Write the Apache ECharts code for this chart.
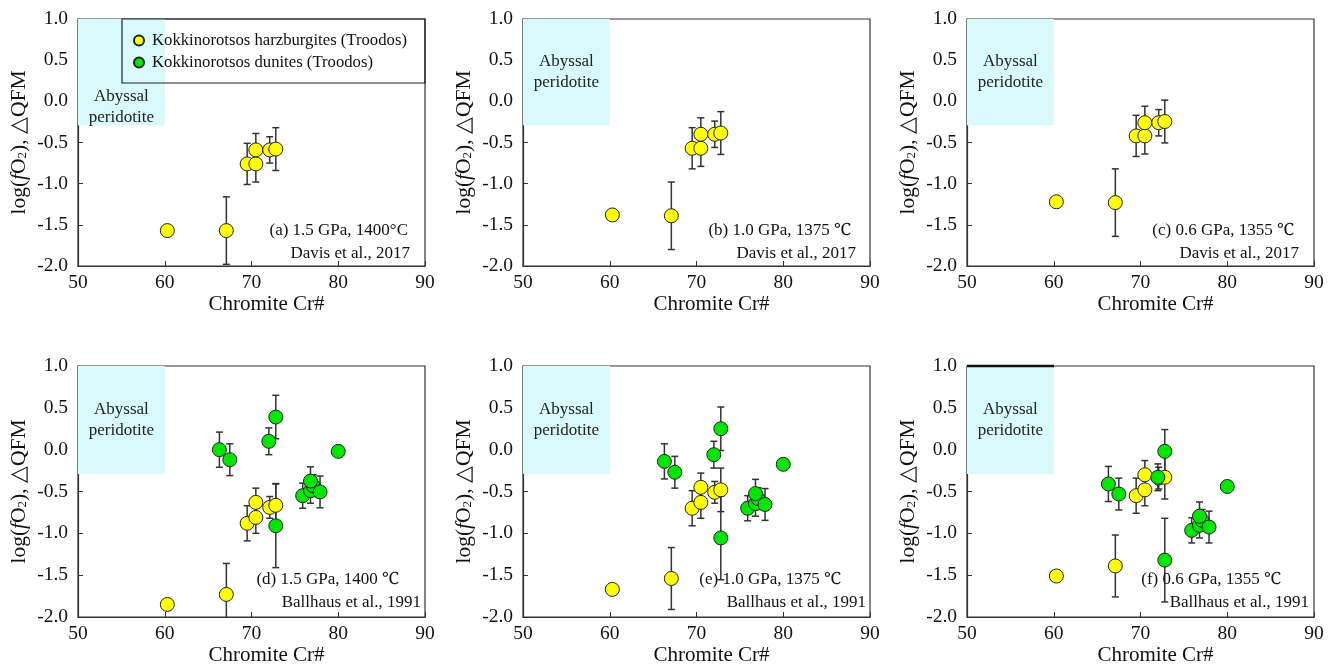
<!DOCTYPE html>
<html>
<head>
<meta charset="utf-8">
<script src="https://cdn.jsdelivr.net/npm/echarts@6/dist/echarts.min.js"></script>
<style>
html,body{margin:0;padding:0;background:#fff;}
#chart{width:1336px;height:667px;}
</style>
</head>
<body>
<div id="chart"></div>
<script>
// ---------------- DATA ----------------
const xTickValues = [50, 60, 70, 80, 90];
const yTickValues = [-2.0, -1.5, -1.0, -0.5, 0.0, 0.5, 1.0];

const harzName = 'Kokkinorotsos harzburgites (Troodos)';
const duniteName = 'Kokkinorotsos dunites (Troodos)';

// Chromite Cr# of harzburgites
const harzCr = [60.3, 67.1, 69.5, 70.5, 70.5, 72.1, 72.8];
// log(fO2) ΔQFM per panel
const harzA = [-1.57, -1.57, -0.76, -0.76, -0.59, -0.59, -0.58];
const harzB = [-1.38, -1.39, -0.57, -0.57, -0.40, -0.40, -0.385];
const harzC = [-1.22, -1.23, -0.42, -0.42, -0.26, -0.26, -0.245];
const harzD = [-1.85, -1.73, -0.88, -0.81, -0.63, -0.69, -0.665];
const harzE = [-1.67, -1.54, -0.70, -0.63, -0.45, -0.51, -0.48];
const harzF = [-1.51, -1.39, -0.55, -0.48, -0.30, -0.34, -0.33];
const harzErrDavis = [0, 0.41, 0.25, 0.22, 0.20, 0.16, 0.26];
const harzErrBallhaus = [0, 0.37, 0.21, 0.19, 0.17, 0.13, 0.26];

// Chromite Cr# of dunites
const duniteCr = [66.3, 67.5, 72.0, 72.8, 72.8, 75.9, 76.8, 77.1, 76.8, 77.9, 80.0];
const duniteD = [0.00, -0.12, 0.10, 0.39, -0.91, -0.55, -0.49, -0.43, -0.375, -0.505, -0.02];
const duniteE = [-0.14, -0.27, -0.06, 0.25, -1.055, -0.70, -0.645, -0.585, -0.525, -0.655, -0.175];
const duniteF = [-0.41, -0.53, -0.33, -0.02, -1.32, -0.965, -0.905, -0.845, -0.795, -0.925, -0.44];
const duniteErr = [0.21, 0.19, 0.16, 0.26, 0.50, 0.15, 0.15, 0.13, 0.17, 0.19, 0];

// Abyssal peridotite field
const abyssalX = [50, 60];
const abyssalY = [-0.29, 1.0];
const abyssalLabel = 'Abyssal\nperidotite';

const panelTitles = ['(a) 1.5 GPa, 1400°C', '(b) 1.0 GPa, 1375 ℃', '(c) 0.6 GPa, 1355 ℃',
                     '(d) 1.5 GPa, 1400 ℃', '(e) 1.0 GPa, 1375 ℃', '(f) 0.6 GPa, 1355 ℃'];
const panelRefs = ['Davis et al., 2017', 'Davis et al., 2017', 'Davis et al., 2017',
                   'Ballhaus et al., 1991', 'Ballhaus et al., 1991', 'Ballhaus et al., 1991'];

const panels = [
  {harz: harzA, harzErr: harzErrDavis, dun: null},
  {harz: harzB, harzErr: harzErrDavis, dun: null},
  {harz: harzC, harzErr: harzErrDavis, dun: null},
  {harz: harzD, harzErr: harzErrBallhaus, dun: duniteD},
  {harz: harzE, harzErr: harzErrBallhaus, dun: duniteE},
  {harz: harzF, harzErr: harzErrBallhaus, dun: duniteF}
];

// ---------------- LAYOUT / STYLE ----------------
const SERIF = '"Liberation Serif", "Times New Roman", "Noto Serif", serif';
const colLeft = [78, 523, 967];
const gridW = 347;
const rowTop = [19, 366];
const rowH = [247, 251];
const axisColor = '#333';
const yellow = '#ffff00';
const green = '#00e600';

const chart = echarts.init(document.getElementById('chart'), null, {renderer: 'canvas'});

function renderErr(params, api) {
  const x = api.value(0), y = api.value(1), e = api.value(2);
  if (!e) return null;
  const t = api.coord([x, y + e]);
  const b = api.coord([x, y - e]);
  const hw = 3.5;
  const st = {stroke: '#333', lineWidth: 1.5};
  return {
    type: 'group',
    children: [
      {type: 'line', shape: {x1: t[0], y1: t[1], x2: b[0], y2: b[1]}, style: st},
      {type: 'line', shape: {x1: t[0] - hw, y1: t[1], x2: t[0] + hw, y2: t[1]}, style: st},
      {type: 'line', shape: {x1: b[0] - hw, y1: b[1], x2: b[0] + hw, y2: b[1]}, style: st}
    ]
  };
}

const grids = [], xAxes = [], yAxes = [], series = [], graphics = [];

panels.forEach((p, i) => {
  const col = i % 3, row = Math.floor(i / 3);
  const left = colLeft[col], top = rowTop[row], h = rowH[row];
  grids.push({left: left, top: top, width: gridW, height: h, show: true,
              borderColor: axisColor, borderWidth: 1.2, containLabel: false});
  xAxes.push({
    type: 'value', gridIndex: i, min: xTickValues[0], max: xTickValues[xTickValues.length - 1],
    interval: 10,
    name: 'Chromite Cr#', nameLocation: 'middle', nameGap: 27,
    nameTextStyle: {fontFamily: SERIF, fontSize: 21, color: '#111', padding: [0, 0, 0, 30]},
    axisLine: {show: true, onZero: false, lineStyle: {color: axisColor, width: 1.2}},
    axisTick: {show: true, inside: true, length: 5, lineStyle: {color: axisColor}},
    axisLabel: {fontFamily: SERIF, fontSize: 19.5, color: '#111', margin: 7},
    splitLine: {show: false}
  });
  yAxes.push({
    type: 'value', gridIndex: i, min: yTickValues[0], max: yTickValues[yTickValues.length - 1],
    interval: 0.5,
    name: '{n|log(}{i|f}{n|O}{s|2}{n|), △QFM}', nameLocation: 'middle', nameGap: 48,
    nameTextStyle: {
      fontFamily: SERIF, fontSize: 21.5, color: '#111',
      rich: {
        n: {fontFamily: SERIF, fontSize: 21.5, color: '#111'},
        i: {fontFamily: SERIF, fontSize: 21.5, color: '#111', fontStyle: 'italic'},
        s: {fontFamily: SERIF, fontSize: 13, color: '#111', padding: [7, 0, 0, 0]}
      }
    },
    axisLine: {show: true, onZero: false, lineStyle: {color: axisColor, width: 1.2}},
    axisTick: {show: true, inside: true, length: 5, lineStyle: {color: axisColor}},
    axisLabel: {fontFamily: SERIF, fontSize: 19.5, color: '#111', margin: 10,
                formatter: v => v.toFixed(1)},
    splitLine: {show: false}
  });

  // abyssal field (drawn via markArea on a helper series)
  series.push({
    type: 'scatter', xAxisIndex: i, yAxisIndex: i, data: [], silent: true, z: 1,
    markArea: {
      silent: true,
      itemStyle: {color: '#d8fafc'},
      label: {
        show: true, position: 'inside', formatter: abyssalLabel,
        fontFamily: SERIF, fontSize: 17, color: '#222', lineHeight: 21,
        offset: [0, i === 0 ? 35 : 0]
      },
      data: [[{coord: [abyssalX[0], abyssalY[1]]}, {coord: [abyssalX[1], abyssalY[0]]}]]
    }
  });

  // error bars
  series.push({
    type: 'custom', xAxisIndex: i, yAxisIndex: i, clip: true, z: 2, silent: true,
    renderItem: renderErr, encode: {x: 0, y: 1},
    data: harzCr.map((c, k) => [c, p.harz[k], p.harzErr[k]])
  });
  if (p.dun) {
    series.push({
      type: 'custom', xAxisIndex: i, yAxisIndex: i, clip: true, z: 2, silent: true,
      renderItem: renderErr, encode: {x: 0, y: 1},
      data: duniteCr.map((c, k) => [c, p.dun[k], duniteErr[k]])
    });
  }
  // points
  series.push({
    name: harzName, type: 'scatter', xAxisIndex: i, yAxisIndex: i, z: 3,
    symbol: 'circle', symbolSize: 14,
    itemStyle: {color: yellow, borderColor: '#222', borderWidth: 1, opacity: 1},
    data: harzCr.map((c, k) => [c, p.harz[k]])
  });
  if (p.dun) {
    series.push({
      name: duniteName, type: 'scatter', xAxisIndex: i, yAxisIndex: i, z: 4,
      symbol: 'circle', symbolSize: 14,
      itemStyle: {color: green, borderColor: '#222', borderWidth: 1, opacity: 1},
      data: duniteCr.map((c, k) => [c, p.dun[k]])
    });
  }

  // panel annotations
  const right = left + gridW;
  const r1 = row === 0 ? [17, 19, 20][col] : [26, 29, 33][col];
  const r2 = row === 0 ? [15, 14, 15][col] : [4, 4, 5][col];
  graphics.push({
    type: 'text', x: right - r1, y: top + (row === 0 ? 212 : 214), z: 10,
    style: {text: panelTitles[i], fontFamily: SERIF, fontSize: 17, fill: '#111',
            textAlign: 'right', textVerticalAlign: 'middle'}
  });
  graphics.push({
    type: 'text', x: right - r2, y: top + (row === 0 ? 235 : 237), z: 10,
    style: {text: panelRefs[i], fontFamily: SERIF, fontSize: 17, fill: '#111',
            textAlign: 'right', textVerticalAlign: 'middle'}
  });
});

// legend frame in panel (a)
graphics.push({
  type: 'rect', z: 5,
  shape: {x: 122, y: 19, width: colLeft[0] + gridW - 122, height: 64},
  style: {fill: 'transparent', stroke: '#222', lineWidth: 1.2}
});
// darker top edge over the abyssal field in panel (f)
graphics.push({
  type: 'line', z: 6,
  shape: {x1: colLeft[2], y1: rowTop[1], x2: colLeft[2] + 87, y2: rowTop[1]},
  style: {stroke: '#111', lineWidth: 2.5}
});

chart.setOption({
  backgroundColor: '#fff',
  animation: false,
  grid: grids,
  xAxis: xAxes,
  yAxis: yAxes,
  legend: {
    data: [harzName, duniteName],
    orient: 'vertical', left: 128, top: 27, itemGap: 5,
    itemWidth: 10, itemHeight: 10, icon: 'circle',
    selectedMode: false,
    textStyle: {fontFamily: SERIF, fontSize: 16.7, color: '#111', lineHeight: 17, padding: [0, 0, 0, 3]}
  },
  graphic: graphics,
  series: series
});
</script>
</body>
</html>
